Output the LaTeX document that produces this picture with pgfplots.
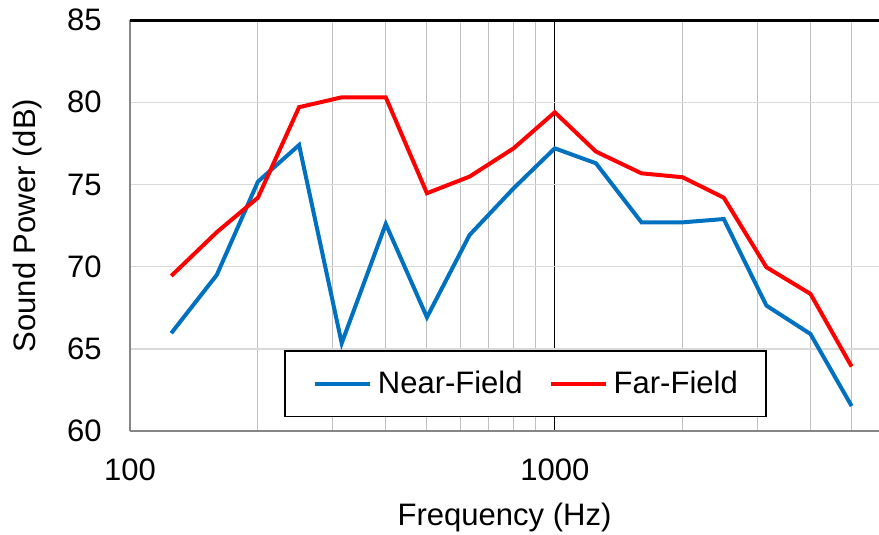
\documentclass[border=0pt]{standalone}
\usepackage{fontspec}
\setmainfont{Liberation Sans}
\usepackage{pgfplots}
\pgfplotsset{compat=1.18}
\definecolor{nfblue}{HTML}{0070C0}
\definecolor{ffred}{HTML}{FF0000}
\definecolor{hgrid}{HTML}{D9D9D9}
\definecolor{vgrid}{HTML}{BFBFBF}
\definecolor{axgray}{HTML}{868686}

\begin{document}
\begin{tikzpicture}
\begin{axis}[
    xmode=log,
    scale only axis,
    width=374.25pt, height=205.5pt,
    xmin=100, xmax=5800,
    ymin=60, ymax=85,
    ytick={60,65,...,80},
    extra y ticks={85},
    extra y tick style={major grid style={black, line width=1.5pt},
                        major y grid style={black, line width=1.5pt}},
    xtick={100,1000},
    xticklabels={100,1000},
    minor xtick={200,300,400,500,600,700,800,900,2000,3000,4000,5000},
    grid=both,
    major x grid style={black, line width=0.6pt},
    minor x grid style={vgrid, line width=0.5pt},
    major y grid style={hgrid, line width=0.75pt},
    axis x line*=bottom, axis y line*=left,
    axis line style={axgray, line width=0.9pt, -},
    major tick length=0pt, minor tick length=0pt,
    /pgf/number format/assume math mode=true,
    tick label style={font=\fontsize{15.5}{18}\selectfont},
    yticklabel style={anchor=east, inner sep=0pt, xshift=-14pt},
    xticklabel style={anchor=north, inner sep=0pt, yshift=-13.5pt},
    label style={font=\fontsize{15.5}{18}\selectfont},
    xlabel={Frequency (Hz)},
    xlabel style={at={(axis description cs:0.5,0)}, anchor=north, inner sep=0pt, yshift=-35.5pt},
    ylabel={Sound Power (dB)},
    ylabel style={at={(axis description cs:0,0.5)}, anchor=north, inner sep=0pt, yshift=58.5pt},
    legend columns=2,
    legend image code/.code={\draw[#1] (0pt,0pt) -- (27.5pt,0pt);},
    legend style={at={(axis description cs:0.2056,0.1966)}, anchor=north west,
        draw=black, line width=0.75pt, fill=white,
        font=\fontsize{15.5}{18}\selectfont,
        inner xsep=14pt, inner ysep=10pt,
        nodes={inner sep=0pt, anchor=west},
        /tikz/every odd column/.append style={column sep=3pt},
        /tikz/every even column/.append style={column sep=13pt}},
]
\addplot[nfblue, line width=2pt] coordinates {
    (125,65.96) (160,69.5) (200,75.17) (250,77.4) (315,65.35) (400,72.6)
    (500,66.93) (630,71.93) (800,74.77) (1000,77.2) (1250,76.29) (1600,72.7)
    (2000,72.7) (2500,72.9) (3150,67.64) (4000,65.91) (5000,61.53)};
\addplot[ffred, line width=2pt] coordinates {
    (125,69.44) (160,72.1) (200,74.2) (250,79.7) (315,80.3) (400,80.3)
    (500,74.47) (630,75.48) (800,77.2) (1000,79.39) (1250,77.0) (1600,75.68)
    (2000,75.44) (2500,74.2) (3150,69.97) (4000,68.35) (5000,63.93)};
\legend{Near-Field, Far-Field}
\end{axis}
\pgfresetboundingbox
\path[use as bounding box] ([xshift=-65pt,yshift=-51.5pt]current axis.south west)
    rectangle ([yshift=10pt]current axis.north east);
\end{tikzpicture}
\end{document}
